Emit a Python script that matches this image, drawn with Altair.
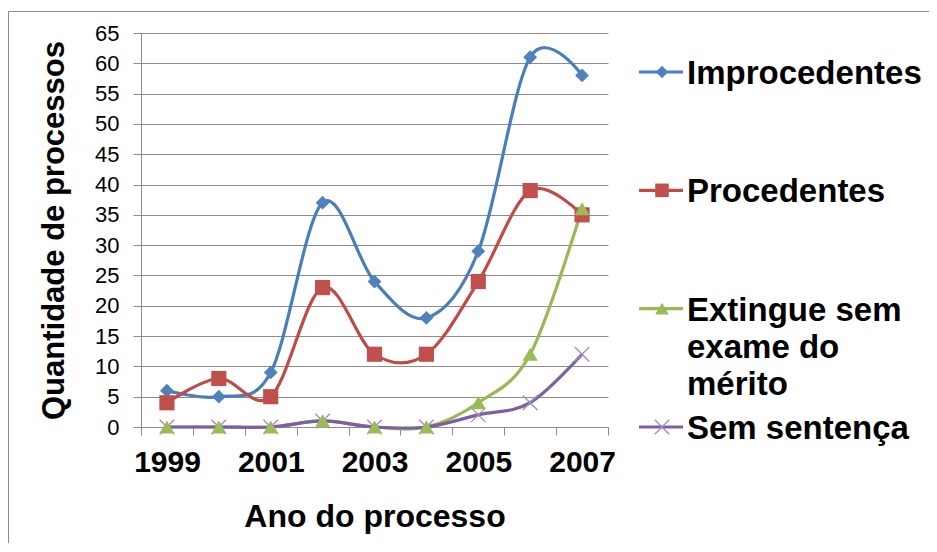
import altair as alt
import pandas as pd

years = [1999, 2000, 2001, 2002, 2003, 2004, 2005, 2006, 2007]
series = ["Improcedentes", "Procedentes", "Extingue sem exame do mérito", "Sem sentença"]
improcedentes = [6, 5, 9, 37, 24, 18, 29, 61, 58]
procedentes = [4, 8, 5, 23, 12, 12, 24, 39, 35]
extingue = [0, 0, 0, 1, 0, 0, 4, 12, 36]
sem_sentenca = [0, 0, 0, 1, 0, 0, 2, 4, 12]
legend_labels = ["Improcedentes", "Procedentes", "Extingue sem\nexame do\nmérito", "Sem sentença"]
y_ticks = [0, 5, 10, 15, 20, 25, 30, 35, 40, 45, 50, 55, 60, 65]

line_colors = ["#4A7EBB", "#BE4B48", "#98B954", "#7D60A0"]
marker_colors = ["#4F81BD", "#C0504D", "#9BBB59", "#9E8BC2"]
marker_shapes = ["diamond", "square", "triangle-up", "M-1,-1L1,1M-1,1L1,-1"]
marker_sizes = [190, 230, 230, 210]
marker_filled = [True, True, True, False]

FONT = "Liberation Sans"
GRAY = "#8C8C8C"

values = [improcedentes, procedentes, extingue, sem_sentenca]
rows = []
for s, vals in zip(series, values):
    for yr, v in zip(years, vals):
        rows.append({"series": s, "year": yr, "value": v})
df = pd.DataFrame(rows)

x_tick_vals = [y - 0.5 for y in years] + [years[-1] + 0.5]

x_enc = alt.X(
    "year:Q",
    scale=alt.Scale(domain=[years[0] - 0.5, years[-1] + 0.5], nice=False, zero=False),
    axis=alt.Axis(
        values=x_tick_vals,
        labelExpr="((datum.value + 0.5) % 2 == 1) ? '' + (datum.value + 0.5) : ''",
        labelOffset=26,
        labelFlush=False,
        labelOverlap=False,
        labelBound=False,
        tickSize=8,
        tickColor=GRAY,
        domainColor=GRAY,
        grid=False,
        labelFont=FONT,
        labelFontSize=30,
        labelFontWeight="bold",
        labelColor="black",
        labelPadding=12,
        title="Ano do processo",
        titleFont=FONT,
        titleFontSize=32,
        titleFontWeight="bold",
        titleColor="black",
        titlePadding=24,
    ),
)
y_enc = alt.Y(
    "value:Q",
    scale=alt.Scale(domain=[0, 65], nice=False, zero=True),
    axis=alt.Axis(
        values=y_ticks,
        labelOverlap=False,
        tickSize=8,
        tickColor=GRAY,
        domainColor=GRAY,
        grid=True,
        gridColor=GRAY,
        labelFont=FONT,
        labelFontSize=22,
        labelColor="black",
        labelPadding=14,
        title="Quantidade de processos",
        titleFont=FONT,
        titleFontSize=31,
        titleFontWeight="bold",
        titleColor="black",
        titlePadding=24,
    ),
)
color_enc = alt.Color("series:N", scale=alt.Scale(domain=series, range=line_colors), legend=None)

base = alt.Chart(df)
lines = base.mark_line(interpolate="cardinal", strokeWidth=3.2).encode(
    x=x_enc, y=y_enc, color=color_enc, detail="series:N"
)
point_layers = []
for i in [0, 1, 3, 2]:
    s = series[i]
    if marker_filled[i]:
        mk = base.mark_point(shape=marker_shapes[i], size=marker_sizes[i], filled=True,
                             fill=marker_colors[i], opacity=1)
    else:
        mk = base.mark_point(shape=marker_shapes[i], size=marker_sizes[i], filled=False,
                             stroke=marker_colors[i], strokeWidth=1.3, opacity=1)
    point_layers.append(
        mk.encode(x=x_enc, y=y_enc).transform_filter(alt.datum.series == s)
    )

frame = alt.Chart(pd.DataFrame({"k": [0]}))
border_left = frame.mark_rule(color=GRAY, strokeWidth=1).encode(
    x=alt.value(-132.5), x2=alt.value(-132.5), y=alt.value(-21.5), y2=alt.value(560)
)
border_top = frame.mark_rule(color=GRAY, strokeWidth=1).encode(
    x=alt.value(-132.5), x2=alt.value(850), y=alt.value(-21.5), y2=alt.value(-21.5)
)

main = alt.layer(border_left, border_top, lines, *point_layers)

# legend
leg_df = pd.DataFrame({"series": series, "label": legend_labels})
leg_y = alt.Y("series:N", scale=alt.Scale(type="point", domain=series, range=[39, 394], padding=0), axis=None)
leg_base = alt.Chart(leg_df)
leg_lines = leg_base.mark_rule(strokeWidth=3.2).encode(
    x=alt.value(498), x2=alt.value(542), y=leg_y,
    color=alt.Color("series:N", scale=alt.Scale(domain=series, range=line_colors), legend=None),
)
leg_marks = []
for i, s in enumerate(series):
    if marker_filled[i]:
        mk = leg_base.mark_point(shape=marker_shapes[i], size=marker_sizes[i] * 0.8, filled=True,
                                 fill=marker_colors[i], opacity=1)
    else:
        mk = leg_base.mark_point(shape=marker_shapes[i], size=marker_sizes[i], filled=False,
                                 stroke=marker_colors[i], strokeWidth=1.3, opacity=1)
    leg_marks.append(mk.encode(x=alt.value(521), y=leg_y).transform_filter(alt.datum.series == s))
leg_text = leg_base.mark_text(
    align="left", baseline="top", dy=-14, font=FONT, fontSize=33, fontWeight="bold",
    lineBreak="\n", lineHeight=37, color="black",
).encode(x=alt.value(546), y=leg_y, text="label:N")

legend = alt.layer(leg_lines, *leg_marks, leg_text)

chart = (
    alt.layer(main, legend)
    .resolve_scale(y="independent")
    .properties(
        width=467,
        height=394,
        autosize=alt.AutoSizeParams(type="none"),
        padding={"left": 133, "top": 25, "right": 321, "bottom": 116},
        background="white",
    )
    .configure_view(stroke=None)
)

chart.save("out.html", embed_options={"renderer": "svg", "actions": False})
